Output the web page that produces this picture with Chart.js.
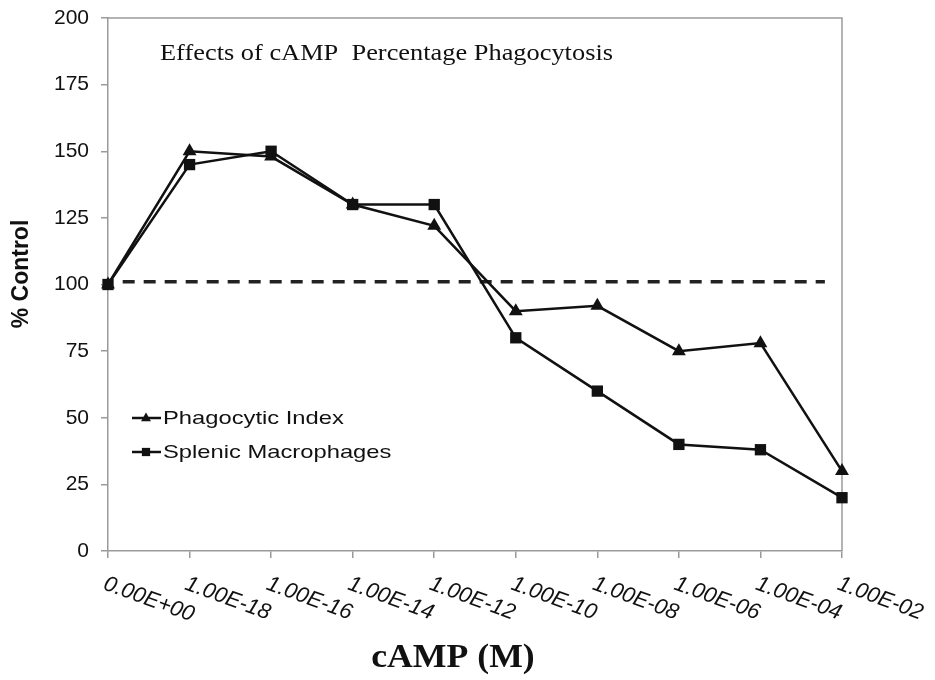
<!DOCTYPE html>
<html>
<head>
<meta charset="utf-8">
<title>Effects of cAMP Percentage Phagocytosis</title>
<script src="https://cdn.jsdelivr.net/npm/chart.js@4.4.1/dist/chart.umd.min.js"></script>
<style>
    html, body { margin: 0; padding: 0; background: #fff; }
    #chartBox { width: 935px; height: 680px; }
</style>
</head>
<body>
<div id="chartBox"><canvas id="myChart"></canvas></div>
<script>
// cAMP concentrations (M), one per category on the x axis
const xLabels = ['0.00E+00', '1.00E-18', '1.00E-16', '1.00E-14', '1.00E-12',
    '1.00E-10', '1.00E-08', '1.00E-06', '1.00E-04', '1.00E-02'];

// % control values
const phagocyticIndex = [100, 150, 148, 130, 122, 90, 92, 75, 78, 30];
const splenicMacrophages = [100, 145, 150, 130, 130, 80, 60, 40, 38, 20];

// dashed control line (x in category units)
const controlLevel = 101;
const controlFrom = 0.18;
const controlTo = 8.79;

const yTicks = [0, 25, 50, 75, 100, 125, 150, 175, 200];

const chartTitle = 'Effects of cAMP  Percentage Phagocytosis';
const xTitle = 'cAMP (M)';
const yTitle = '% Control';
const seriesNames = ['Phagocytic Index', 'Splenic Macrophages'];

document.addEventListener('DOMContentLoaded', () => {
    const axisGrey = '#9a9a9a';
    const ink = '#111';

    const toPoints = values => values.map((v, i) => ({ x: i, y: v }));

    // draws text stretched horizontally, the source image is a bit wide
    function wideText(ctx, text, x, y, sx, align) {
        ctx.save();
        ctx.translate(x, y);
        ctx.scale(sx, 1);
        ctx.textAlign = align || 'left';
        ctx.fillText(text, 0, 0);
        ctx.restore();
    }

    function marker(ctx, style, x, y, r) {
        ctx.beginPath();
        if (style === 'triangle') {
            ctx.moveTo(x, y - r);
            ctx.lineTo(x + r * 0.9, y + r * 0.6);
            ctx.lineTo(x - r * 0.9, y + r * 0.6);
            ctx.closePath();
        } else {
            ctx.rect(x - r * 0.75, y - r * 0.75, r * 1.5, r * 1.5);
        }
        ctx.fill();
    }

    const decorations = {
        id: 'decorations',
        beforeDatasetsDraw(chart) {
            const ctx = chart.ctx;
            const area = chart.chartArea;
            // top and right edges of the plot box
            ctx.save();
            ctx.strokeStyle = axisGrey;
            ctx.lineWidth = 1.5;
            ctx.beginPath();
            ctx.moveTo(area.left, area.top);
            ctx.lineTo(area.right, area.top);
            ctx.lineTo(area.right, area.bottom);
            ctx.stroke();
            ctx.restore();
        },
        afterDraw(chart) {
            const ctx = chart.ctx;
            const xScale = chart.scales.x;
            ctx.save();
            ctx.fillStyle = ink;

            // title inside the plot
            ctx.font = '23px "Liberation Serif", "Times New Roman", serif';
            ctx.textBaseline = 'alphabetic';
            const tw = ctx.measureText(chartTitle).width;
            wideText(ctx, chartTitle, 160, 60, 453 / tw, 'left');

            // slanted x tick labels
            ctx.font = 'italic 22px "Liberation Sans", Arial, sans-serif';
            ctx.textBaseline = 'top';
            ctx.textAlign = 'left';
            xLabels.forEach((label, i) => {
                const px = xScale.getPixelForValue(i);
                ctx.save();
                ctx.translate(px, 573);
                ctx.rotate(20 * Math.PI / 180);
                ctx.fillText(label, 0, 0);
                ctx.restore();
            });

            // axis titles
            ctx.font = 'bold 34px "Liberation Serif", "Times New Roman", serif';
            ctx.textBaseline = 'alphabetic';
            wideText(ctx, xTitle, 453, 667, 1.05, 'center');

            ctx.font = 'bold 23px "Liberation Sans", Arial, sans-serif';
            ctx.textBaseline = 'middle';
            ctx.save();
            ctx.translate(22, 274);
            ctx.rotate(-Math.PI / 2);
            ctx.textAlign = 'center';
            ctx.fillText(yTitle, 0, 0);
            ctx.restore();

            // legend
            const styles = ['triangle', 'rect'];
            const rows = [418, 452];
            ctx.font = '19px "Liberation Sans", Arial, sans-serif';
            ctx.textBaseline = 'middle';
            seriesNames.forEach((name, i) => {
                const y = rows[i];
                ctx.strokeStyle = ink;
                ctx.lineWidth = 2.5;
                ctx.beginPath();
                ctx.moveTo(132, y);
                ctx.lineTo(161, y);
                ctx.stroke();
                marker(ctx, styles[i], 146, y, 5.5);
                wideText(ctx, name, 163, y + 1, 1.25, 'left');
            });
            ctx.restore();
        }
    };

    const ctx = document.getElementById('myChart').getContext('2d');
    const myChart = new Chart(ctx, {
        type: 'line',
        data: {
            datasets: [{
                label: seriesNames[0],
                data: toPoints(phagocyticIndex),
                borderColor: ink,
                backgroundColor: ink,
                borderWidth: 2.5,
                pointStyle: 'triangle',
                pointRadius: 8,
                pointBorderWidth: 0,
                tension: 0,
                clip: false,
                order: 1
            }, {
                label: seriesNames[1],
                data: toPoints(splenicMacrophages),
                borderColor: ink,
                backgroundColor: ink,
                borderWidth: 2.5,
                pointStyle: 'rect',
                pointRadius: 8,
                pointBorderWidth: 0,
                tension: 0,
                clip: false,
                order: 0
            }, {
                label: 'Control',
                data: [{ x: controlFrom, y: controlLevel }, { x: controlTo, y: controlLevel }],
                borderColor: '#222',
                borderWidth: 3.5,
                borderDash: [12, 9],
                pointRadius: 0,
                order: 2
            }]
        },
        options: {
            responsive: true,
            maintainAspectRatio: false,
            animation: false,
            layout: {
                padding: { top: 18, right: 93, left: 0, bottom: 0 }
            },
            plugins: {
                legend: { display: false },
                tooltip: { enabled: false }
            },
            scales: {
                x: {
                    type: 'linear',
                    min: 0,
                    max: xLabels.length - 1,
                    offset: false,
                    ticks: { display: false, stepSize: 1 },
                    grid: {
                        drawOnChartArea: false,
                        drawTicks: true,
                        tickLength: 7,
                        color: axisGrey,
                        lineWidth: 1.5
                    },
                    border: { color: axisGrey, width: 1.5 },
                    afterFit: scale => {
                        scale.height = 129;
                        scale.paddingLeft = 0;
                        scale.paddingRight = 0;
                    }
                },
                y: {
                    min: 0,
                    max: 200,
                    afterBuildTicks: scale => {
                        scale.ticks = yTicks.map(v => ({ value: v }));
                    },
                    ticks: {
                        color: ink,
                        padding: 12,
                        font: { family: '"Liberation Sans", Arial, sans-serif', size: 21 }
                    },
                    grid: {
                        drawOnChartArea: false,
                        drawTicks: true,
                        tickLength: 7,
                        color: axisGrey,
                        lineWidth: 1.5
                    },
                    border: { color: axisGrey, width: 1.5 },
                    afterFit: scale => {
                        scale.width = 108;
                        scale.paddingTop = 0;
                        scale.paddingBottom = 0;
                    }
                }
            }
        },
        plugins: [decorations]
    });
});
</script>
</body>
</html>
